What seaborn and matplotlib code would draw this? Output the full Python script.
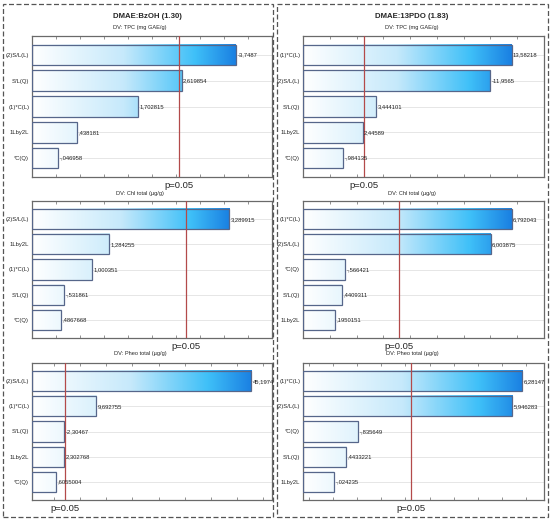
import numpy as np
import matplotlib
matplotlib.use('agg')
import matplotlib.pyplot as plt
from matplotlib.colors import LinearSegmentedColormap
from matplotlib.patches import Rectangle
import matplotlib.transforms as mtransforms
import seaborn as sns

# Pareto charts of standardized effects (Statistica style)
p_crit = 2.5706

solvents = ['DMAE:BzOH (1.30)', 'DMAE:13PDO (1.83)']
responses = ['DV: TPC (mg GAE/g)', 'DV: Chl total (µg/g)', 'DV: Pheo total (µg/g)']

# left column: DMAE:BzOH
bz_tpc_terms = ['(2)S/L(L)', 'S/L(Q)', '(1)*C(L)', '1Lby2L', '*C(Q)']
bz_tpc_vals = [-3.7487, 2.619854, 1.702815, 0.438181, -0.046958]
bz_chl_terms = ['(2)S/L(L)', '1Lby2L', '(1)*C(L)', 'S/L(Q)', '*C(Q)']
bz_chl_vals = [3.289915, 1.284255, 1.000351, -0.531861, 0.4867668]
bz_pheo_terms = ['(2)S/L(L)', '(1)*C(L)', 'S/L(Q)', '1Lby2L', '*C(Q)']
bz_pheo_vals = [45.1974, 9.692755, -2.30467, 2.302768, 0.6055004]

# right column: DMAE:13PDO
pd_tpc_terms = ['(1)*C(L)', '(2)S/L(L)', 'S/L(Q)', '1Lby2L', '*C(Q)']
pd_tpc_vals = [13.58218, -11.9565, 3.444101, 2.44589, -0.984135]
pd_chl_terms = ['(1)*C(L)', '(2)S/L(L)', '*C(Q)', 'S/L(Q)', '1Lby2L']
pd_chl_vals = [6.792043, 6.003875, -0.566421, 0.4409311, 0.1950151]
pd_pheo_terms = ['(1)*C(L)', '(2)S/L(L)', '*C(Q)', 'S/L(Q)', '1Lby2L']
pd_pheo_vals = [6.28147, 5.946283, -0.835649, 0.4433221, -0.024235]

x_ranges = [[(-0.5, 4.5), (0, 4), (-5, 50)],
            [(-2, 16), (-1, 8), (-1, 7)]]

panels = [[(bz_tpc_terms, bz_tpc_vals), (bz_chl_terms, bz_chl_vals), (bz_pheo_terms, bz_pheo_vals)],
          [(pd_tpc_terms, pd_tpc_vals), (pd_chl_terms, pd_chl_vals), (pd_pheo_terms, pd_pheo_vals)]]

sns.set_style('white')
plt.rcParams['font.family'] = ['Liberation Sans', 'DejaVu Sans']

grad = LinearSegmentedColormap.from_list(
    'statgrad', [(0, '#ffffff'), (0.45, '#c6e9fb'), (0.8, '#3fc0f8'), (1, '#1a80e2')])


def fmt(v):
    s = f'{v:.7g}'
    if s.startswith('0.'):
        s = s[1:]
    elif s.startswith('-0.'):
        s = '-' + s[2:]
    return s.replace('.', ',')


W, H = 550, 523
fig = plt.figure(figsize=(W / 100, H / 100), dpi=100)

# dashed frames around the two columns
for x0, x1 in [(3, 273), (277, 548)]:
    fig.patches.append(Rectangle((x0 / W, 1 - 517 / H), (x1 - x0) / W, (517 - 4) / H,
                                 transform=fig.transFigure, fill=False, ec='#555555',
                                 lw=0.9, ls=(0, (4, 2))))

col_x = [(32, 272), (303, 544)]
row_y = [(36, 177), (201, 338), (363, 500)]
title_x = [147, 412]
sub_x = [140, 412]
sub_y = [28, 193, 354]

for c in range(2):
    fig.text(title_x[c] / W, 1 - 16 / H, solvents[c], ha='center', va='center',
             fontsize=5.6, fontweight='bold')
    for r in range(3):
        terms, vals = panels[c][r]
        vals = np.array(vals)
        absv = np.abs(vals)
        xmin, xmax = x_ranges[c][r]
        (xl, xr), (yt, yb) = col_x[c], row_y[r]
        ax = fig.add_axes([xl / W, 1 - yb / H, (xr - xl) / W, (yb - yt) / H])
        fig.text(sub_x[c] / W, 1 - sub_y[r] / H, responses[r], ha='center', va='center',
                 fontsize=4.1)

        pos = np.arange(len(terms))
        for y in pos:
            ax.axhline(y, color='#e2e2e2', lw=0.6, zorder=0)

        vmax = absv.max()
        for y, a in zip(pos, absv):
            frac = (a - xmin) / (vmax - xmin)
            g = np.linspace(0, frac, 256).reshape(1, -1)
            ax.imshow(g, cmap=grad, vmin=0, vmax=1, aspect='auto',
                      extent=(xmin, a, y + 0.4, y - 0.4), zorder=2, interpolation='bilinear')
        ax.barh(pos, absv - xmin, left=xmin, height=0.8, facecolor='none',
                edgecolor='#56668a', lw=0.9, zorder=3)

        for y, a, v in zip(pos, absv, vals):
            ax.annotate(fmt(v), (a, y), xytext=(1, 0), textcoords='offset points',
                        ha='left', va='center', fontsize=4.2, color='#222222',
                        annotation_clip=False, zorder=5)

        ax.axvline(p_crit, color='#b34a4a', lw=0.9, zorder=4, snap=True)
        trans = mtransforms.blended_transform_factory(ax.transData, ax.transAxes)
        ax.text(p_crit, -0.03, 'p=0.05', transform=trans, ha='center', va='top',
                fontsize=6.8)

        ax.set_xlim(xmin, xmax)
        ax.set_ylim(len(terms) - 0.27, -0.73)
        ax.set_yticks(pos)
        ax.set_yticklabels(terms, fontsize=4.2)
        ax.tick_params(axis='y', length=0, pad=2)
        ax.tick_params(axis='x', which='both', direction='in', top=True, bottom=True,
                       labelbottom=False, length=2.2, width=0.5, color='#666666')
        ax.xaxis.set_major_locator(matplotlib.ticker.MaxNLocator(10))
        for s in ax.spines.values():
            s.set_color('#6a6a6a')
            s.set_linewidth(0.9)

fig.savefig('out.png', dpi=100)
